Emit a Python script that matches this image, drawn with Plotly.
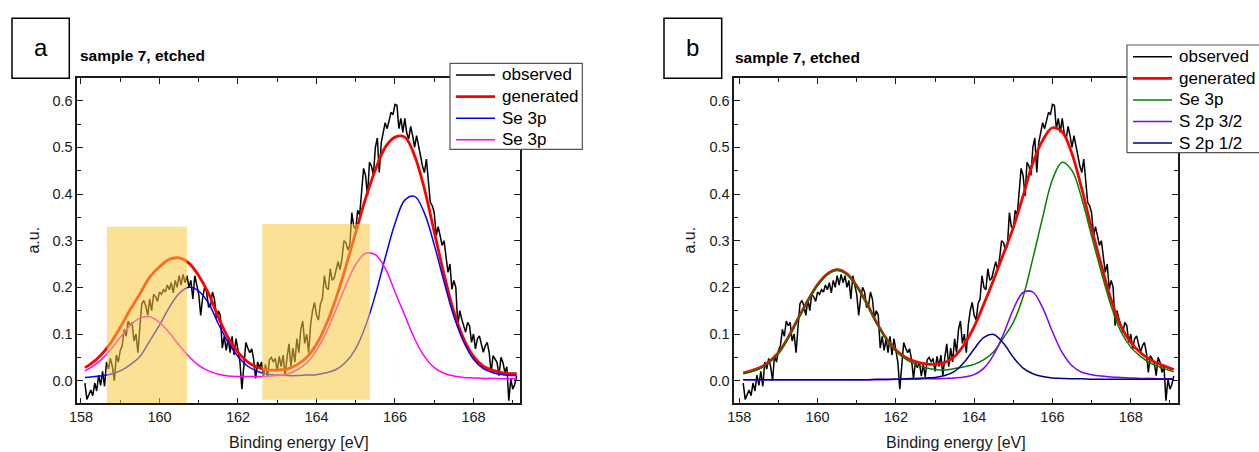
import plotly.graph_objects as go

# ---------------- data ----------------
# binding-energy grid of the fitted (smooth) curves, eV
fit_x = [158.1, 158.25, 158.5, 158.75, 159.0, 159.25, 159.5, 159.75, 160.0, 160.25,
         160.5, 160.75, 161.0, 161.25, 161.5, 161.75, 162.0, 162.25, 162.5, 162.75,
         163.0, 163.25, 163.5, 163.75, 164.0, 164.25, 164.5, 164.75, 165.0, 165.25,
         165.5, 165.75, 166.0, 166.25, 166.5, 166.75, 167.0, 167.25, 167.5, 167.75,
         168.0, 168.25, 168.5, 168.75, 169.0, 169.1]

# panel a: two Se 3p components
gen_a = [0.028, 0.036, 0.054, 0.080, 0.114, 0.152, 0.186, 0.222, 0.244, 0.260,
         0.263, 0.252, 0.225, 0.187, 0.136, 0.092, 0.061, 0.040, 0.029, 0.023,
         0.023, 0.025, 0.034, 0.050, 0.078, 0.121, 0.177, 0.245, 0.318, 0.390,
         0.452, 0.500, 0.522, 0.522, 0.482, 0.411, 0.319, 0.228, 0.148, 0.090,
         0.052, 0.031, 0.022, 0.017, 0.015, 0.015]
se3p_blue_a = [0.007, 0.008, 0.010, 0.014, 0.021, 0.034, 0.052, 0.085, 0.119, 0.157,
               0.187, 0.200, 0.192, 0.166, 0.122, 0.082, 0.052, 0.031, 0.020, 0.014,
               0.012, 0.011, 0.011, 0.012, 0.013, 0.017, 0.024, 0.040, 0.069, 0.117,
               0.184, 0.263, 0.337, 0.387, 0.395, 0.359, 0.291, 0.212, 0.138, 0.083,
               0.046, 0.026, 0.017, 0.013, 0.011, 0.011]
se3p_mag_a = [0.021, 0.028, 0.044, 0.066, 0.093, 0.118, 0.134, 0.137, 0.125, 0.103,
              0.076, 0.052, 0.033, 0.021, 0.014, 0.010, 0.009, 0.009, 0.009, 0.009,
              0.011, 0.014, 0.023, 0.038, 0.065, 0.104, 0.153, 0.205, 0.249, 0.273,
              0.270, 0.241, 0.190, 0.140, 0.090, 0.052, 0.028, 0.016, 0.010, 0.007,
              0.006, 0.005, 0.005, 0.004, 0.004, 0.004]

# panel b: Se 3p + S 2p doublet
gen_b = [0.017, 0.020, 0.027, 0.040, 0.060, 0.093, 0.133, 0.172, 0.206, 0.229,
         0.238, 0.229, 0.203, 0.167, 0.126, 0.091, 0.066, 0.050, 0.041, 0.036,
         0.035, 0.039, 0.052, 0.078, 0.116, 0.165, 0.217, 0.272, 0.328, 0.396,
         0.467, 0.515, 0.542, 0.533, 0.486, 0.411, 0.326, 0.247, 0.173, 0.117,
         0.082, 0.060, 0.045, 0.035, 0.027, 0.024]
se3p_b = [0.015, 0.018, 0.025, 0.038, 0.058, 0.091, 0.131, 0.170, 0.204, 0.227,
          0.236, 0.227, 0.201, 0.165, 0.124, 0.089, 0.063, 0.046, 0.035, 0.028,
          0.024, 0.023, 0.026, 0.030, 0.035, 0.045, 0.062, 0.092, 0.125, 0.180,
          0.262, 0.350, 0.431, 0.468, 0.450, 0.390, 0.310, 0.232, 0.160, 0.105,
          0.072, 0.052, 0.038, 0.029, 0.022, 0.019]
s2p32_b = [0.002, 0.002, 0.002, 0.002, 0.002, 0.002, 0.002, 0.002, 0.002, 0.002,
           0.002, 0.002, 0.002, 0.002, 0.002, 0.002, 0.003, 0.003, 0.003, 0.004,
           0.004, 0.005, 0.006, 0.008, 0.013, 0.027, 0.056, 0.100, 0.153, 0.189,
           0.190, 0.156, 0.105, 0.060, 0.032, 0.018, 0.013, 0.010, 0.008, 0.007,
           0.006, 0.005, 0.005, 0.004, 0.004, 0.004]
s2p12_b = [0.002, 0.002, 0.002, 0.002, 0.002, 0.002, 0.002, 0.002, 0.002, 0.002,
           0.002, 0.002, 0.002, 0.002, 0.003, 0.003, 0.003, 0.004, 0.005, 0.006,
           0.007, 0.011, 0.020, 0.040, 0.068, 0.093, 0.099, 0.080, 0.050, 0.027,
           0.015, 0.009, 0.006, 0.005, 0.004, 0.004, 0.003, 0.003, 0.003, 0.003,
           0.003, 0.003, 0.003, 0.003, 0.003, 0.003]

# observed spectrum, 0.05 eV steps starting at 158.10 eV
obs_start, obs_step = 158.10, 0.05
observed = [
    -0.005, -0.040, -0.030, -0.020, -0.032, -0.005, -0.022, 0.012, -0.010, 0.020,   # 158.10
    -0.012, 0.040, 0.025, 0.048, 0.030, 0.000, 0.055, 0.040, 0.065, 0.075,         # 158.60
    0.110, 0.095, 0.128, 0.118, 0.125, 0.085, 0.100, 0.060, 0.115, 0.165,          # 159.10
    0.172, 0.160, 0.140, 0.175, 0.150, 0.185, 0.180, 0.170, 0.190, 0.185,          # 159.60
    0.195, 0.190, 0.205, 0.195, 0.210, 0.188, 0.215, 0.200, 0.225, 0.205,          # 160.10
    0.228, 0.210, 0.225, 0.200, 0.215, 0.175, 0.225, 0.205, 0.185, 0.140,          # 160.60
    0.178, 0.200, 0.190, 0.158, 0.160, 0.190, 0.175, 0.135, 0.150, 0.140,          # 161.10
    0.070, 0.095, 0.065, 0.090, 0.060, 0.095, 0.055, 0.090, 0.060, 0.040,          # 161.60
    -0.018, 0.040, 0.082, 0.070, 0.060, 0.068, 0.045, 0.005, 0.040, 0.028,         # 162.10
    0.040, 0.010, 0.035, 0.008, 0.045, 0.050, 0.040, 0.048, 0.020, 0.052,          # 162.60
    0.030, 0.055, 0.010, 0.050, 0.079, 0.030, 0.070, 0.040, 0.090, 0.060,          # 163.10
    0.110, 0.128, 0.080, 0.100, 0.060, 0.120, 0.150, 0.168, 0.140, 0.130,          # 163.60
    0.165, 0.175, 0.225, 0.200, 0.195, 0.240, 0.215, 0.220, 0.240, 0.255,          # 164.10
    0.238, 0.262, 0.300, 0.296, 0.280, 0.290, 0.360, 0.330, 0.325, 0.365,          # 164.60
    0.355, 0.400, 0.455, 0.440, 0.396, 0.468, 0.460, 0.440, 0.500, 0.520,          # 165.10
    0.446, 0.510, 0.530, 0.553, 0.540, 0.560, 0.575, 0.570, 0.592, 0.590,          # 165.60
    0.540, 0.562, 0.532, 0.562, 0.530, 0.518, 0.545, 0.525, 0.500, 0.525,          # 166.10
    0.500, 0.482, 0.460, 0.446, 0.475, 0.420, 0.382, 0.375, 0.360, 0.311,          # 166.60
    0.330, 0.311, 0.290, 0.300, 0.268, 0.232, 0.250, 0.196, 0.215, 0.200,          # 167.10
    0.118, 0.150, 0.132, 0.120, 0.104, 0.125, 0.118, 0.082, 0.100, 0.068,          # 167.60
    0.090, 0.096, 0.075, 0.061, 0.075, 0.082, 0.060, 0.018, 0.054, 0.045,          # 168.10
    0.039, 0.011, 0.050, 0.039, 0.018, 0.030, -0.043, 0.004, -0.018, -0.008,       # 168.60
    0.010,                                                                          # 169.10
]
obs_x = [round(obs_start + obs_step * i, 2) for i in range(len(observed))]

# highlighted energy windows in panel a: (x0, x1, y_top, y_bottom)
highlights_a = [(158.66, 160.70, 0.330, -0.048), (162.62, 165.36, 0.336, -0.041)]

panel_title = "sample 7, etched"
x_title = "Binding energy [eV]"
y_title = "a.u."

# ---------------- figure ----------------
W, H = 1259, 452
def px(v): return v / W
def py(v): return 1 - v / H

FONT = "Liberation Sans, Arial, sans-serif"
INK = "#1a1a1a"

fig = go.Figure()
legend_items = {"a": [], "b": []}

def add(x, y, name, color, width, xa, ya, panel, shape="spline"):
    fig.add_trace(go.Scatter(x=x, y=y, name=name, mode="lines", showlegend=False,
                             line=dict(color=color, width=width, shape=shape, smoothing=1.0),
                             xaxis=xa, yaxis=ya))
    legend_items[panel].append((name, color, width))

# panel a
add(obs_x, observed, "observed", "black", 1.5, "x", "y", "a", "linear")
add(fit_x, gen_a, "generated", "#ff0000", 2.8, "x", "y", "a")
add(fit_x, se3p_blue_a, "Se 3p", "#0000ff", 1.5, "x", "y", "a")
add(fit_x, se3p_mag_a, "Se 3p", "#ff00ff", 1.5, "x", "y", "a")
# panel b
add(obs_x, observed, "observed", "black", 1.5, "x2", "y2", "b", "linear")
add(fit_x, gen_b, "generated", "#ff0000", 2.8, "x2", "y2", "b")
add(fit_x, se3p_b, "Se 3p", "#008000", 1.5, "x2", "y2", "b")
add(fit_x, s2p32_b, "S 2p 3/2", "#8000ff", 1.5, "x2", "y2", "b")
add(fit_x, s2p12_b, "S 2p 1/2", "#000080", 1.5, "x2", "y2", "b")

axis_common = dict(showline=True, linecolor=INK, linewidth=1.5, mirror="ticks",
                   ticks="inside", ticklen=6, tickwidth=1.2, tickcolor=INK,
                   showgrid=False, zeroline=False,
                   tickfont=dict(family=FONT, size=14.5, color=INK))

xa = dict(axis_common, dtick=2, tick0=158,
          minor=dict(ticks="inside", ticklen=4, tickwidth=1.2, tickcolor=INK, dtick=1, showgrid=False))
ya = dict(axis_common, dtick=0.1, tick0=0, tickformat=".1f", range=[-0.0484, 0.6486],
          minor=dict(ticks="inside", ticklen=4, tickwidth=1.2, tickcolor=INK, dtick=0.05, showgrid=False))

y_dom = [py(403.3), py(78)]
fig.update_layout(
    width=W, height=H,
    margin=dict(l=0, r=0, t=0, b=0, autoexpand=False),
    paper_bgcolor="white", plot_bgcolor="white",
    showlegend=False,
    xaxis=dict(xa, domain=[px(77.3), px(520)], range=[157.906, 169.185], anchor="y"),
    yaxis=dict(ya, domain=y_dom, anchor="x"),
    xaxis2=dict(xa, domain=[px(734.3), px(1177.7)], range=[157.872, 169.2], anchor="y2"),
    yaxis2=dict(ya, domain=y_dom, anchor="x2"),
)

shapes = []
ann = []
for x0, x1, yt, yb in highlights_a:
    shapes.append(dict(type="rect", xref="x", yref="y", x0=x0, x1=x1, y0=yb, y1=yt,
                       fillcolor="rgba(250,200,60,0.55)", line=dict(width=0), layer="above"))
# panel letter boxes
for x0, x1 in [(12, 69.3), (664, 721.7)]:
    shapes.append(dict(type="rect", xref="paper", yref="paper", x0=px(x0), x1=px(x1),
                       y0=py(78.3), y1=py(18.3), line=dict(color="black", width=1.5),
                       fillcolor="rgba(0,0,0,0)", layer="above"))

# legends (box, sample line, label) drawn in page pixels
legend_boxes = {"a": (450, 582.3, 63.3, 149.3, 75.0), "b": (1127, 1275, 45.0, 152.7, 56.7)}
ROW = 21.6
for panel, (bx0, bx1, by0, by1, first) in legend_boxes.items():
    shapes.append(dict(type="rect", xref="paper", yref="paper", x0=px(bx0), x1=px(bx1),
                       y0=py(by1), y1=py(by0), line=dict(color="#555555", width=1.2),
                       fillcolor="white", layer="above"))
    for i, (name, color, width) in enumerate(legend_items[panel]):
        yy = first + ROW * i
        shapes.append(dict(type="line", xref="paper", yref="paper", x0=px(bx0 + 6), x1=px(bx0 + 45),
                           y0=py(yy), y1=py(yy), line=dict(color=color, width=width), layer="above"))
        ann.append(dict(text=name, x=px(bx0 + 50), y=py(yy), xref="paper", yref="paper",
                        showarrow=False, xanchor="left", yanchor="middle",
                        font=dict(family=FONT, size=17, color="black")))
fig.update_layout(shapes=shapes)

for letter, cx in [("a", 40.6), ("b", 692.8)]:
    ann.append(dict(text=letter, x=px(cx), y=py(47), xref="paper", yref="paper",
                    showarrow=False, xanchor="center", yanchor="middle",
                    font=dict(family=FONT, size=24, color="black")))
for x0, yc in [(78, 55), (733, 58)]:
    ann.append(dict(text="<b>%s</b>" % panel_title, x=px(x0), y=py(yc), xref="paper", yref="paper",
                    showarrow=False, xanchor="left", yanchor="middle",
                    font=dict(family=FONT, size=15.5, color="black")))
for cx in [298.6, 956]:
    ann.append(dict(text=x_title, x=px(cx), y=py(442), xref="paper", yref="paper",
                    showarrow=False, xanchor="center", yanchor="middle",
                    font=dict(family=FONT, size=16, color=INK)))
for cx in [34, 690]:
    ann.append(dict(text=y_title, x=px(cx), y=py(240.6), xref="paper", yref="paper",
                    showarrow=False, xanchor="center", yanchor="middle", textangle=-90,
                    font=dict(family=FONT, size=16, color=INK)))
fig.update_layout(annotations=ann)

fig.write_html("out.html")
